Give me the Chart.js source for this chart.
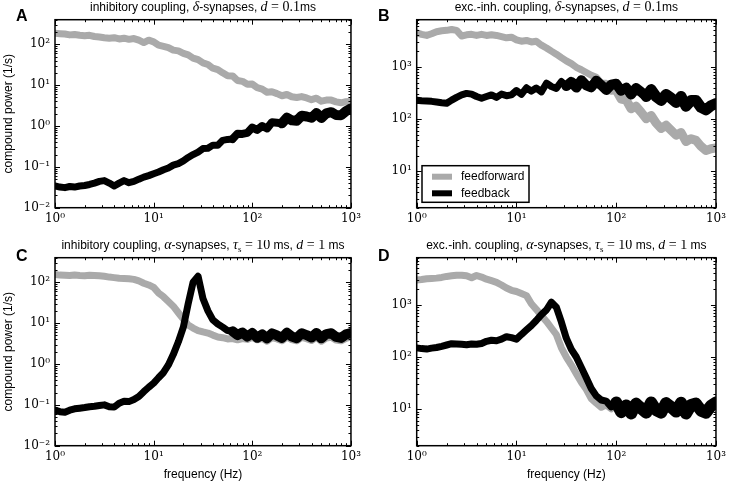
<!DOCTYPE html>
<html>
<head>
<meta charset="utf-8">
<script src="https://cdn.jsdelivr.net/npm/chart.js@4.4.1/dist/chart.umd.min.js"></script>
<style>
  body { margin: 0; background: #fff; width: 730px; height: 485px; position: relative; overflow: hidden; }
  canvas { position: absolute; }
</style>
</head>
<body>
<canvas id="pA" width="365" height="240" style="left:0;top:0;width:365px;height:240px"></canvas>
<canvas id="pB" width="365" height="240" style="left:365px;top:0;width:365px;height:240px"></canvas>
<canvas id="pC" width="365" height="245" style="left:0;top:240px;width:365px;height:245px"></canvas>
<canvas id="pD" width="365" height="245" style="left:365px;top:240px;width:365px;height:245px"></canvas>
<script>
// frequency grid (Hz), 20 points per decade
const freqs = [1, 1.12, 1.26, 1.41, 1.58, 1.78, 2, 2.24, 2.51, 2.82, 3.16, 3.55, 3.98, 4.47, 5.01, 5.62, 6.31, 7.08, 7.94, 8.91,
  10, 11.2, 12.6, 14.1, 15.8, 17.8, 20, 22.4, 25.1, 28.2, 31.6, 35.5, 39.8, 44.7, 50.1, 56.2, 63.1, 70.8, 79.4, 89.1,
  100, 112, 126, 141, 158, 178, 200, 224, 251, 282, 316, 355, 398, 447, 501, 562, 631, 708, 794, 891, 1000];

// A: inhibitory, delta synapses
const aFeedforward = [186, 182, 178, 170, 174, 166, 162, 166, 155, 151,
  145, 141, 145, 135, 141, 132, 138, 126, 110, 126,
  115, 95, 89, 83, 72, 69, 60, 55, 46, 42,
  35, 32, 26, 24, 20, 17, 16.8, 13, 12.4, 10.5,
  10.6, 8.7, 8.0, 6.7, 6.9, 6.2, 5.5, 5.9, 5.2, 5.0,
  5.25, 4.85, 4.4, 4.8, 4.05, 4.3, 4.3, 3.9, 3.7, 3.95, 4.0];
const aFeedback = [0.034, 0.032, 0.031, 0.033, 0.032, 0.034, 0.035, 0.037, 0.040, 0.044,
  0.046, 0.040, 0.034, 0.040, 0.046, 0.041, 0.044, 0.050, 0.056, 0.061,
  0.068, 0.075, 0.085, 0.094, 0.11, 0.12, 0.14, 0.17, 0.20, 0.23,
  0.28, 0.285, 0.34, 0.34, 0.445, 0.47, 0.48, 0.65, 0.64, 0.68,
  0.92, 0.80, 1.0, 0.87, 1.23, 1.2, 1.16, 1.6, 1.38, 1.35,
  1.79, 1.71, 1.59, 2.07, 1.57, 2.03, 2.18, 1.86, 1.83, 2.31, 2.69];

// B: exc.-inh., delta synapses
const bFeedforward = [4500, 4200, 4000, 4300, 4700, 4900, 5000, 5200, 5000, 3900,
  4100, 4200, 4000, 4200, 4000, 4100, 4000, 3800, 3600, 3700,
  3300, 3100, 3200, 3000, 3100, 2600, 2300, 2000, 1750, 1500,
  1300, 1150, 980, 880, 780, 690, 630, 485, 484, 340,
  356, 242, 231, 157, 176, 135, 102, 117, 84, 66,
  76, 61, 49, 55, 37, 42, 39, 30, 25, 27, 28];
const bFeedback = [230, 225, 222, 218, 212, 205, 200, 230, 260, 290,
  310, 300, 270, 250, 270, 290, 260, 300, 280, 290,
  352, 297, 397, 342, 394, 332, 486, 420, 387, 523,
  428, 515, 400, 555, 442, 405, 540, 444, 361, 454,
  474, 347, 398, 295, 393, 330, 271, 366, 268, 227,
  296, 252, 207, 270, 176, 226, 226, 167, 150, 180, 198];

// C: inhibitory, alpha synapses
const cFeedforward = [155, 150, 148, 146, 150, 146, 145, 148, 146, 144,
  140, 134, 130, 125, 124, 122, 118, 108, 95, 86,
  75, 55, 44, 34, 26, 18, 12.5, 9, 7.6, 6.6,
  6.1, 5.7, 5.1, 4.6, 4.4, 4.1, 4.2, 3.9, 4.2, 4.0,
  4.5, 3.9, 4.26, 3.6, 4.43, 4.1, 3.69, 4.6, 3.94, 3.69,
  4.5, 4.18, 3.77, 4.5, 3.6, 4.3, 4.5, 3.85, 3.69, 4.26, 4.6];
const cFeedback = [0.074, 0.068, 0.066, 0.074, 0.080, 0.083, 0.086, 0.090, 0.092, 0.096,
  0.100, 0.090, 0.088, 0.110, 0.122, 0.120, 0.135, 0.16, 0.21, 0.27,
  0.34, 0.46, 0.62, 0.95, 1.7, 3.5, 8, 30, 100, 140,
  40, 20, 12, 9.5, 8, 6.6, 6.3, 5.1, 5.9, 4.7,
  5.75, 4.4, 5.3, 4.25, 5.6, 5.0, 4.35, 5.8, 4.7, 4.3,
  5.65, 5.1, 4.45, 5.75, 4.25, 5.4, 5.65, 4.6, 4.35, 5.3, 5.75];

// D: exc.-inh., alpha synapses
const dFeedforward = [3000, 3050, 3150, 3200, 3250, 3350, 3500, 3600, 3700, 3700,
  3600, 3300, 3650, 3400, 3100, 2900, 2700, 2400, 2100, 1900,
  1800, 1650, 1500, 1050, 820, 620, 480, 360, 270, 150,
  100, 70, 48, 33, 24, 16, 13.1, 10.9, 12.1, 10.2,
  12.9, 10.8, 12.1, 9.9, 12.65, 11.5, 10.35, 13.1, 10.9, 10.1,
  12.9, 11.7, 10.5, 13.0, 9.9, 12.2, 12.9, 10.7, 10.1, 12.1, 13.1];
const dFeedback = [150, 145, 142, 148, 152, 160, 170, 180, 178, 175,
  172, 178, 176, 182, 200, 210, 205, 220, 245, 235,
  220, 270, 330, 400, 500, 650, 800, 1120, 900, 470,
  230, 140, 100, 63, 40, 25, 18, 15, 14.3, 11.1,
  13.4, 8.8, 11.8, 8.3, 12.8, 10.4, 8.6, 13.5, 9.6, 8.6,
  13.1, 11.0, 9.0, 13.3, 8.3, 12.0, 12.8, 9.4, 8.6, 11.6, 13.4];

const xTicks = [1, 10, 100, 1000];
const yTicksInh = [0.01, 0.1, 1, 10, 100];
const yTicksExc = [10, 100, 1000];

const GRAY = '#aaaaaa';
const SANS = '"Liberation Sans", Arial, sans-serif';
const SERIF = '"DejaVu Serif", serif';
const MATH = '"Liberation Serif", "DejaVu Serif", serif';

const SUP = { '-': '\u207b', '0': '\u2070', '1': '\u00b9', '2': '\u00b2', '3': '\u00b3' };
function pow10(v) {
  const e = String(Math.round(Math.log10(v)));
  return '10' + e.split('').map(c => SUP[c]).join('');
}

// the noisy high-frequency part of a spectrum reads as a thicker band
function bandWidth(steps) {
  return ctx => {
    const f = ctx.p0.parsed.x;
    let w = 7;
    steps.forEach(s => { if (f >= s[0]) w = s[1]; });
    return w;
  };
}

const S = '12px ' + SANS, MI = 'italic 14px ' + MATH, M = '14px ' + MATH, SUB = '9px ' + MATH;
const panels = {
  pA: { letter: 'A', lx: 16, title: [['inhibitory coupling, ', S], ['\u03b4', MI], ['-synapses, ', S], ['d', MI], [' = 0.1', M], ['ms', S]] },
  pB: { letter: 'B', lx: 13, legend: true, title: [['exc.-inh. coupling, ', S], ['\u03b4', MI], ['-synapses, ', S], ['d', MI], [' = 0.1', M], ['ms', S]] },
  pC: { letter: 'C', lx: 16, title: [['inhibitory coupling, ', S], ['\u03b1', MI], ['-synapses, ', S], ['\u03c4', MI], ['s', SUB, 3], [' = 10', M], [' ms, ', S], ['d', MI], [' = 1', M], [' ms', S]] },
  pD: { letter: 'D', lx: 13, title: [['exc.-inh. coupling, ', S], ['\u03b1', MI], ['-synapses, ', S], ['\u03c4', MI], ['s', SUB, 3], [' = 10', M], [' ms, ', S], ['d', MI], [' = 1', M], [' ms', S]] }
};

function logMarks(min, max) {
  const out = [];
  for (let e = Math.floor(Math.log10(min)); e <= Math.ceil(Math.log10(max)); e++) {
    for (let m = 1; m <= 9; m++) {
      const v = m * Math.pow(10, e);
      if (v >= min * 0.999 && v <= max * 1.001) out.push({ v, major: m === 1 });
    }
  }
  return out;
}

const deco = {
  id: 'deco',
  afterDraw(chart) {
    const d = panels[chart.canvas.id];
    const { ctx, chartArea: a, scales } = chart;
    ctx.save();
    ctx.strokeStyle = '#000';
    ctx.lineWidth = 1;
    ctx.beginPath();
    logMarks(scales.x.min, scales.x.max).forEach(t => {
      const px = Math.round(scales.x.getPixelForValue(t.v)) + 0.5;
      const len = t.major ? 5 : 2.5;
      ctx.moveTo(px, a.bottom); ctx.lineTo(px, a.bottom - len);
      ctx.moveTo(px, a.top); ctx.lineTo(px, a.top + len);
    });
    logMarks(scales.y.min, scales.y.max).forEach(t => {
      const py = Math.round(scales.y.getPixelForValue(t.v)) + 0.5;
      const len = t.major ? 5 : 2.5;
      ctx.moveTo(a.left, py); ctx.lineTo(a.left + len, py);
      ctx.moveTo(a.right, py); ctx.lineTo(a.right - len, py);
    });
    ctx.stroke();
    ctx.lineWidth = 1.5;
    ctx.strokeRect(a.left, a.top, a.right - a.left, a.bottom - a.top);

    // title with mixed fonts, centred on the plot area
    ctx.fillStyle = '#000';
    ctx.textBaseline = 'alphabetic';
    ctx.textAlign = 'left';
    let total = 0;
    d.title.forEach(s => { ctx.font = s[1]; total += ctx.measureText(s[0]).width; });
    let x = (a.left + a.right) / 2 - total / 2;
    const base = a.top - 8.5;
    d.title.forEach(s => {
      ctx.font = s[1];
      ctx.fillText(s[0], x, base + (s[2] || 0));
      x += ctx.measureText(s[0]).width;
    });

    // panel letter
    ctx.font = 'bold 16px ' + SANS;
    ctx.fillText(d.letter, d.lx, 21);

    if (d.legend) {
      const l = a.left + 5.3, t = a.bottom - 42, w = 107, h = 36.6;
      ctx.fillStyle = '#fff';
      ctx.fillRect(l, t, w, h);
      ctx.lineWidth = 1.5;
      ctx.strokeRect(l, t, w, h);
      const rows = [['feedforward', GRAY, a.bottom - 31], ['feedback', '#000', a.bottom - 14.4]];
      rows.forEach(r => {
        ctx.strokeStyle = r[1];
        ctx.lineWidth = 6;
        ctx.beginPath();
        ctx.moveTo(l + 10, r[2]); ctx.lineTo(l + 30, r[2]);
        ctx.stroke();
        ctx.fillStyle = '#000';
        ctx.font = '12px ' + SANS;
        ctx.textBaseline = 'middle';
        ctx.fillText(r[0], l + 39, r[2]);
      });
    }
    ctx.restore();
  }
};

function pairs(vals) {
  return freqs.map((f, i) => ({ x: f, y: vals[i] }));
}

function makePanel(id, ff, fb, yMin, yMax, yTicks, o) {
  new Chart(document.getElementById(id), {
    type: 'line',
    data: {
      datasets: [
        { label: 'feedforward', data: pairs(ff), borderColor: GRAY, order: 1, segment: { borderWidth: bandWidth(o.ffBand) } },
        { label: 'feedback', data: pairs(fb), borderColor: '#000', order: 0, segment: { borderWidth: bandWidth(o.fbBand) } }
      ]
    },
    options: {
      responsive: false,
      animation: false,
      devicePixelRatio: 1,
      layout: { padding: { left: 0, top: o.top, right: o.right, bottom: 0 } },
      elements: {
        line: { borderWidth: 7, tension: 0, borderJoinStyle: 'round', borderCapStyle: 'round' },
        point: { radius: 0 }
      },
      plugins: { legend: { display: false }, tooltip: { enabled: false }, title: { display: false } },
      scales: {
        x: {
          type: 'logarithmic', min: 1, max: 1000,
          afterBuildTicks: s => { s.ticks = xTicks.map(v => ({ value: v })); },
          afterFit: s => { s.height = o.xh; },
          grid: { display: false, drawTicks: false },
          border: { display: false },
          ticks: { callback: pow10, color: '#000', font: { family: SERIF, size: 12 }, padding: 4, maxRotation: 0, autoSkip: false },
          title: { display: o.xTitle, text: 'frequency (Hz)', color: '#000', font: { family: SANS, size: 12 }, padding: { top: 0, bottom: 3 } }
        },
        y: {
          type: 'logarithmic', min: yMin, max: yMax,
          afterBuildTicks: s => { s.ticks = yTicks.map(v => ({ value: v })); },
          afterFit: s => { s.width = o.yw; },
          grid: { display: false, drawTicks: false },
          border: { display: false },
          ticks: { callback: pow10, color: '#000', font: { family: SERIF, size: 12 }, padding: 5, autoSkip: false },
          title: { display: o.yTitle, text: 'compound power (1/s)', color: '#000', font: { family: SANS, size: 12 }, padding: { top: 1, bottom: 0 } }
        }
      }
    },
    plugins: [deco]
  });
}

makePanel('pA', aFeedforward, aFeedback, 0.01, 400, yTicksInh,
  { yw: 55, right: 9, top: 19.7, xh: 32.3, yTitle: true, xTitle: false, ffBand: [], fbBand: [[60, 8], [200, 10]] });
makePanel('pB', bFeedforward, bFeedback, 2, 8000, yTicksExc,
  { yw: 51.7, right: 12, top: 19.7, xh: 32.3, yTitle: false, xTitle: false, ffBand: [[100, 9]], fbBand: [[30, 10], [200, 11]] });
makePanel('pC', cFeedforward, cFeedback, 0.01, 400, yTicksInh,
  { yw: 55, right: 9, top: 17.7, xh: 39.3, yTitle: true, xTitle: true, ffBand: [], fbBand: [[60, 10]] });
makePanel('pD', dFeedforward, dFeedback, 2, 8000, yTicksExc,
  { yw: 51.7, right: 12, top: 17.7, xh: 39.3, yTitle: false, xTitle: true, ffBand: [[90, 9]], fbBand: [[90, 12]] });
</script>
</body>
</html>
